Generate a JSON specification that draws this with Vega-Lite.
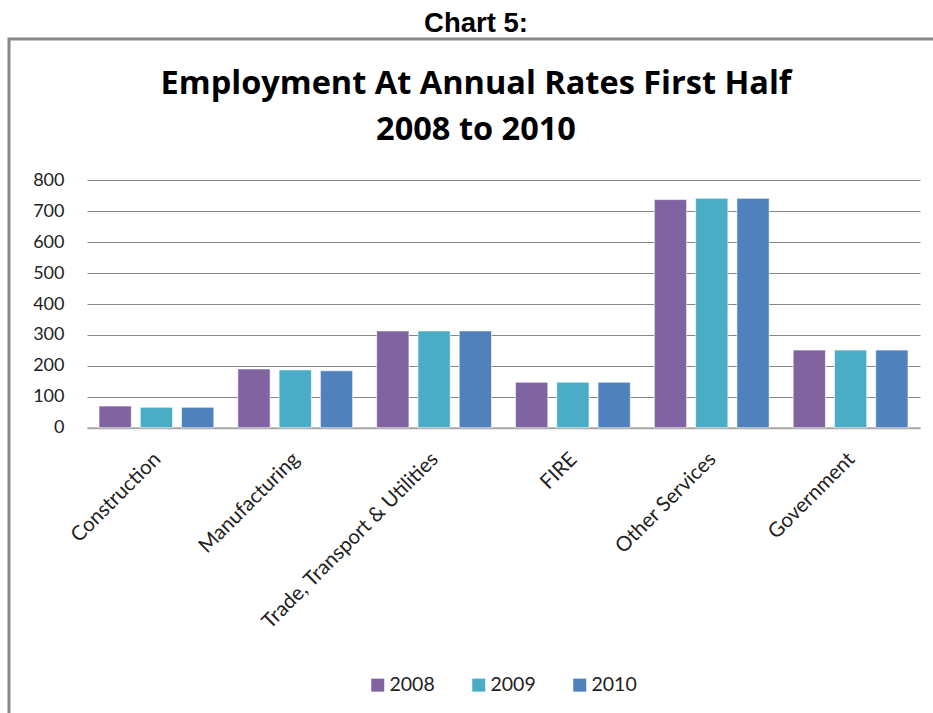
{
  "$schema": "https://vega.github.io/schema/vega-lite/v6.json",
  "autosize": {"type": "none"},
  "padding": {"left": 9, "top": 39, "right": 0, "bottom": 0},
  "width": 934,
  "height": 690,
  "background": "white",
  "title": {
    "text": "Chart 5:",
    "subtitle": ["Employment  At Annual Rates First Half", "2008 to 2010"],
    "anchor": "middle",
    "frame": "group",
    "font": "Liberation Sans",
    "fontSize": 27.5,
    "fontWeight": "bold",
    "color": "black",
    "subtitleFont": "Open Sans",
    "subtitleFontSize": 32.5,
    "subtitleFontWeight": "bold",
    "subtitleColor": "black",
    "subtitleLineHeight": 46,
    "subtitlePadding": 30,
    "offset": -107
  },
  "data": {
    "values": [
      {"sector": "Construction", "year": "2008", "value": 70},
      {"sector": "Construction", "year": "2009", "value": 66},
      {"sector": "Construction", "year": "2010", "value": 66},
      {"sector": "Manufacturing", "year": "2008", "value": 190},
      {"sector": "Manufacturing", "year": "2009", "value": 187},
      {"sector": "Manufacturing", "year": "2010", "value": 184},
      {"sector": "Trade, Transport & Utilities", "year": "2008", "value": 313},
      {"sector": "Trade, Transport & Utilities", "year": "2009", "value": 313},
      {"sector": "Trade, Transport & Utilities", "year": "2010", "value": 313},
      {"sector": "FIRE", "year": "2008", "value": 147},
      {"sector": "FIRE", "year": "2009", "value": 147},
      {"sector": "FIRE", "year": "2010", "value": 147},
      {"sector": "Other Services", "year": "2008", "value": 738},
      {"sector": "Other Services", "year": "2009", "value": 742},
      {"sector": "Other Services", "year": "2010", "value": 742},
      {"sector": "Government", "year": "2008", "value": 251},
      {"sector": "Government", "year": "2009", "value": 251},
      {"sector": "Government", "year": "2010", "value": 251}
    ]
  },
  "mark": {"type": "bar", "stroke": "white", "strokeWidth": 1, "strokeOpacity": 0.6},
  "encoding": {
    "x": {
      "field": "sector",
      "type": "nominal",
      "sort": ["Construction", "Manufacturing", "Trade, Transport & Utilities", "FIRE", "Other Services", "Government"],
      "scale": {"range": [78, 911], "paddingInner": 0.173, "paddingOuter": 0.0865},
      "axis": {
        "title": null,
        "labelAngle": -45,
        "ticks": false,
        "tickSize": 0,
        "domain": true,
        "domainColor": "#a6a6a6",
        "domainWidth": 2,
        "grid": false,
        "offset": -301.3,
        "labelPadding": 21,
        "labelLimit": 0,
        "labelOffset": -6,
        "labelFont": "Lato",
        "labelFontSize": 20.5,
        "labelColor": "#222222"
      }
    },
    "xOffset": {
      "field": "year",
      "type": "nominal",
      "scale": {"paddingInner": 0.218, "paddingOuter": 0}
    },
    "y": {
      "field": "value",
      "type": "quantitative",
      "scale": {"domain": [-974.8, 1257.5], "nice": false, "zero": false},
      "axis": {
        "title": null,
        "values": [0, 100, 200, 300, 400, 500, 600, 700, 800],
        "grid": true,
        "gridColor": "#858585",
        "gridWidth": 1,
        "domain": false,
        "ticks": false,
        "tickSize": 0,
        "offset": -78,
        "labelPadding": 23,
        "labelFont": "Lato",
        "labelFontSize": 18,
        "labelColor": "#222222"
      }
    },
    "color": {
      "field": "year",
      "type": "nominal",
      "scale": {"domain": ["2008", "2009", "2010"], "range": ["#8064A2", "#4BACC6", "#4F81BD"]},
      "legend": {
        "title": null,
        "orient": "none",
        "legendX": 359,
        "legendY": 636,
        "direction": "horizontal",
        "symbolType": "square",
        "symbolSize": 169,
        "symbolStrokeWidth": 0,
        "labelFont": "Lato",
        "labelFontSize": 19.5,
        "labelColor": "#222222",
        "labelOffset": 2,
        "columnPadding": 34
      }
    }
  },
  "config": {
    "view": {"stroke": "#888888", "strokeWidth": 3}
  }
}
